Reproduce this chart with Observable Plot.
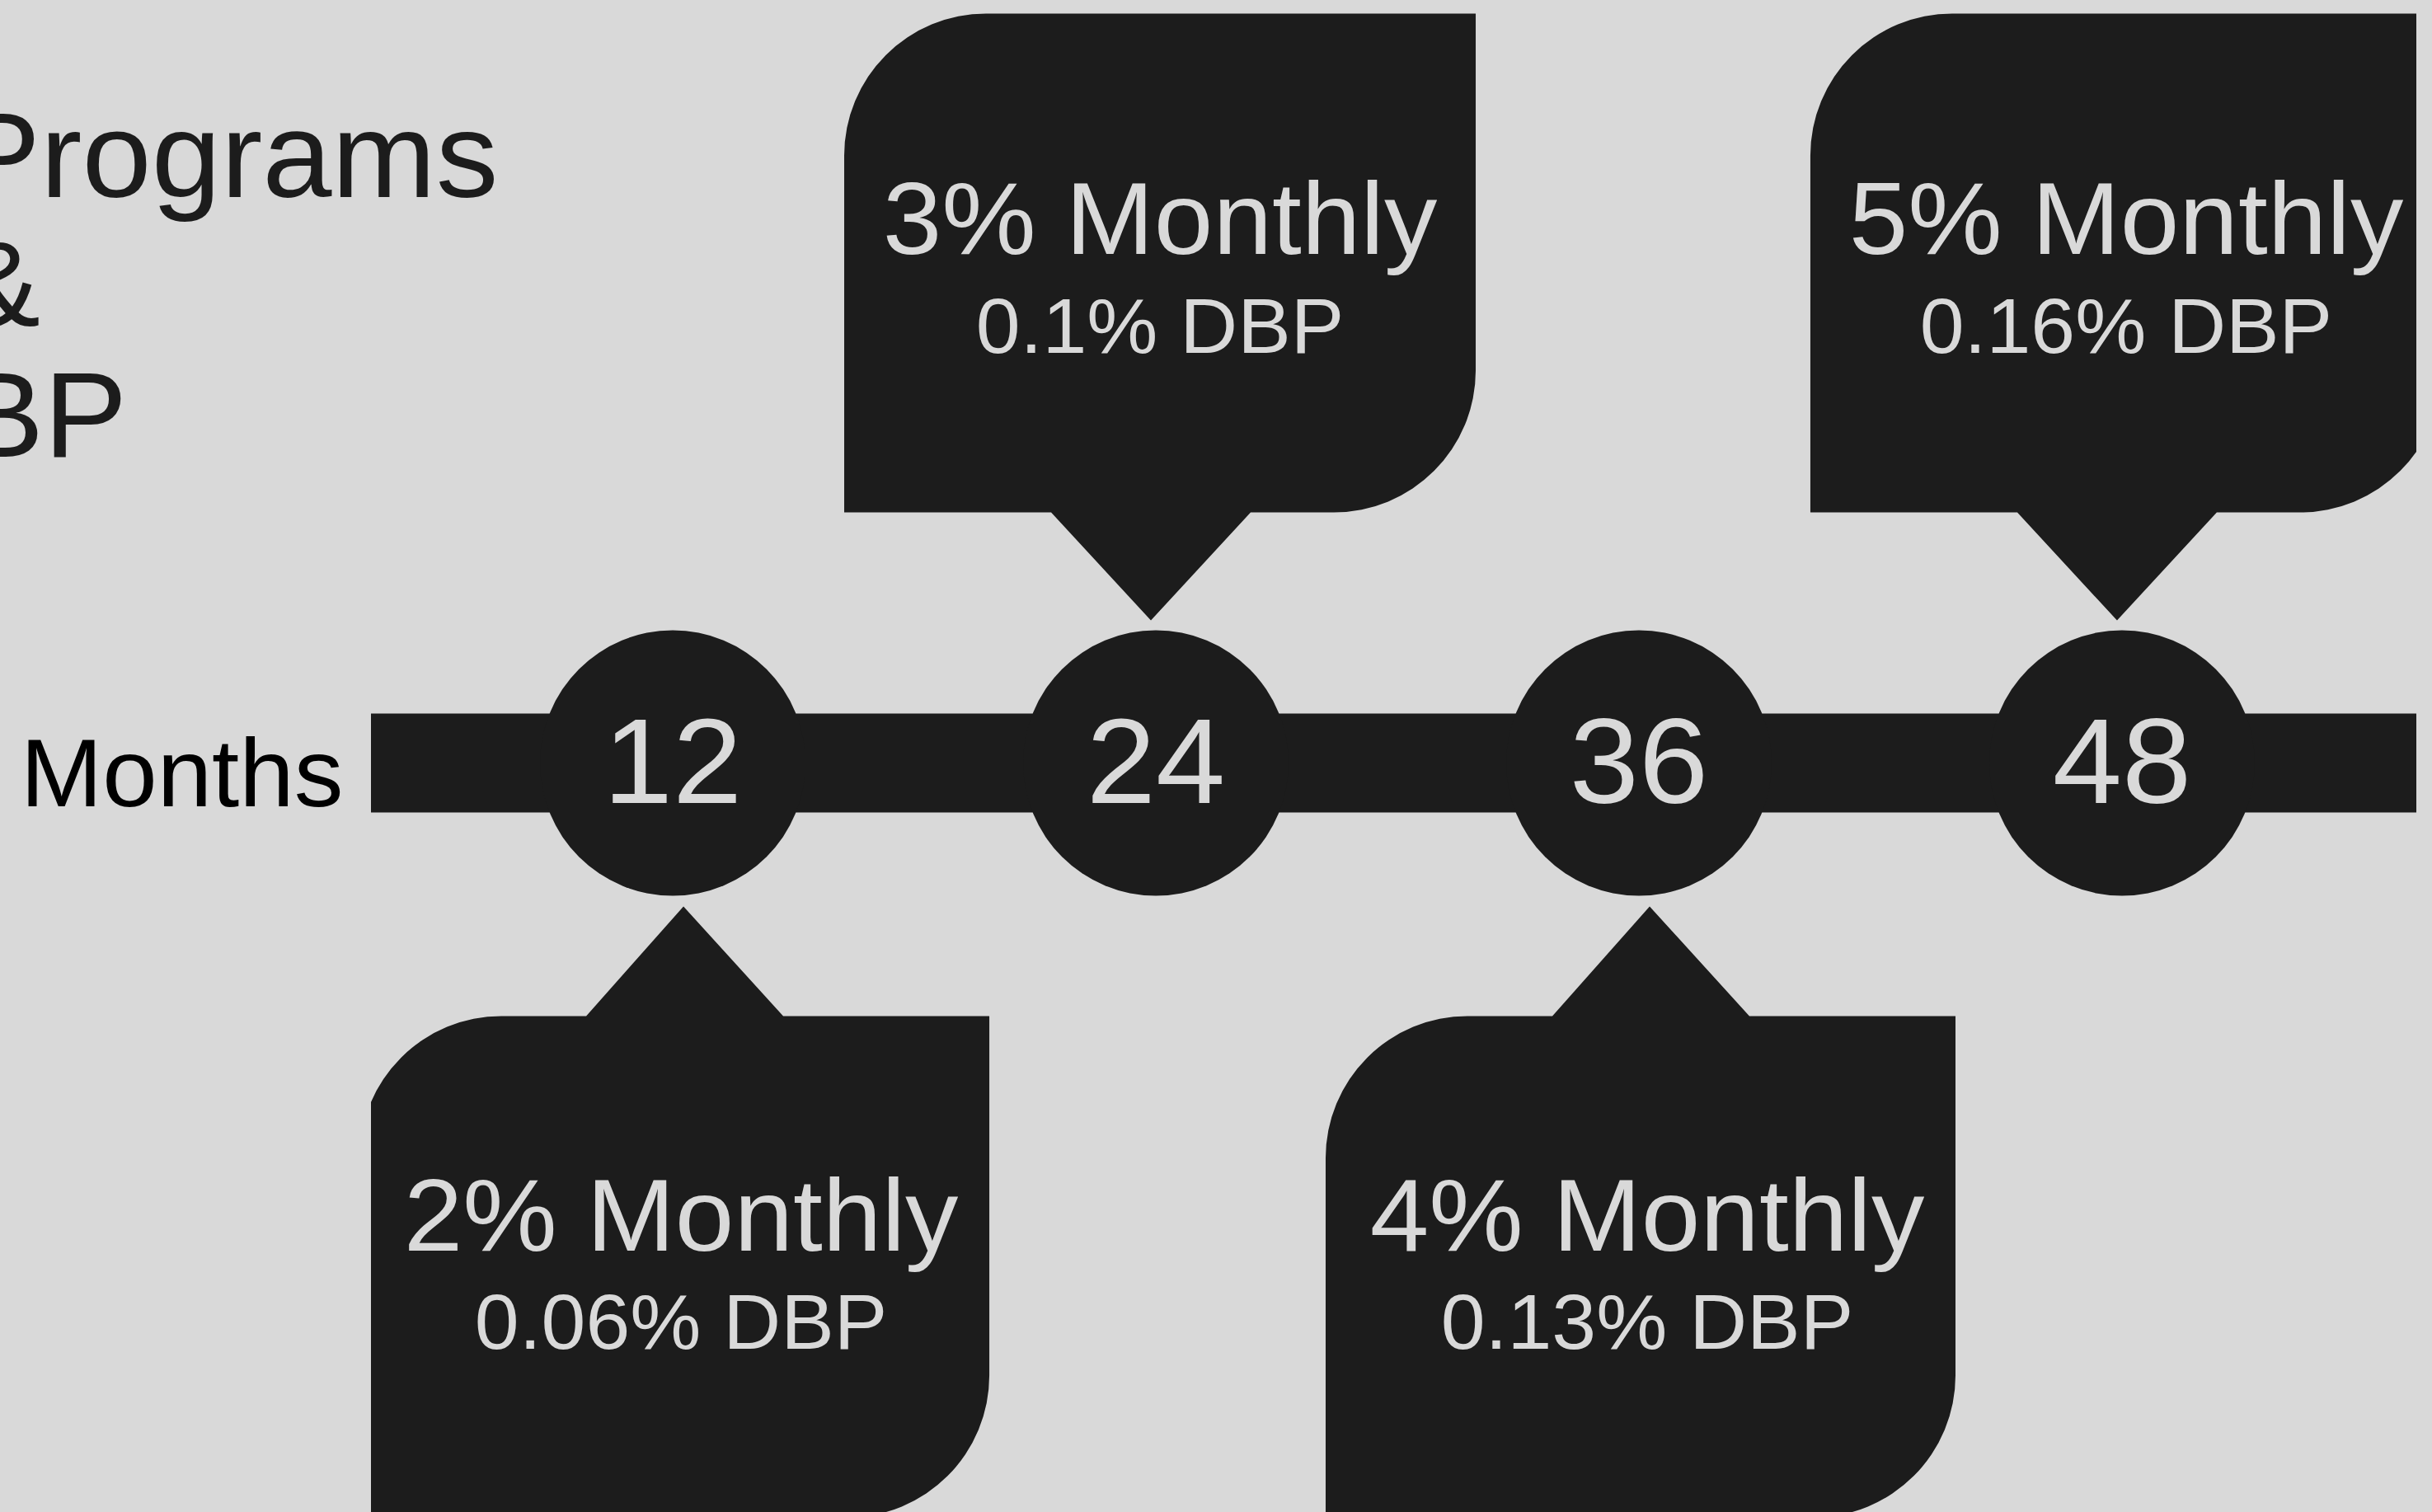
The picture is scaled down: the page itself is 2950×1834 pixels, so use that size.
<!DOCTYPE html>
<html>
<head>
<meta charset="utf-8">
<script src="https://cdn.jsdelivr.net/npm/d3@7"></script>
<script src="https://cdn.jsdelivr.net/npm/@observablehq/plot@0.6"></script>
<style>
  html, body { margin: 0; padding: 0; background: #d9d9d9; overflow: hidden; }
  #chart svg { display: block; }
</style>
</head>
<body>
<div id="chart"></div>
<script>
// ---- data ----
const months = [12, 24, 36, 48];
const rates = ["2% Monthly", "3% Monthly", "4% Monthly", "5% Monthly"];
const dbps = ["0.06% DBP", "0.1% DBP", "0.13% DBP", "0.16% DBP"];
const sides = ["below", "above", "below", "above"];
const titleLines = ["Deposit Programs", "&", "DBP"];
const axisLabel = "Months";

// ---- styles ----
const DARK = "#1c1c1c";
const LIGHT = "#d9d9d9";
const STRETCH = 1.03;

const data = months.map((m, i) => ({month: m, rate: rates[i], dbp: dbps[i], side: sides[i]}));

// callout shapes (speech bubbles), drawn relative to the timeline point
const RAD = 172;
const calloutAbove = {
  draw(ctx) {
    const L = -378, R = 388, T = -909, B = -304;
    ctx.moveTo(L, B);
    ctx.lineTo(L, T + RAD);
    ctx.arcTo(L, T, L + RAD, T, RAD);
    ctx.lineTo(R, T);
    ctx.lineTo(R, B - RAD);
    ctx.arcTo(R, B, R - RAD, B, RAD);
    ctx.lineTo(115, B);
    ctx.lineTo(-6, -173);
    ctx.lineTo(-127, B);
    ctx.closePath();
  }
};
const calloutBelow = {
  draw(ctx) {
    const L = -380, R = 384, T = 307, B = 915;
    ctx.moveTo(L, T + RAD);
    ctx.arcTo(L, T, L + RAD, T, RAD);
    ctx.lineTo(-105, T);
    ctx.lineTo(13, 174);
    ctx.lineTo(134, T);
    ctx.lineTo(R, T);
    ctx.lineTo(R, B - RAD);
    ctx.arcTo(R, B, R - RAD, B, RAD);
    ctx.lineTo(L, B);
    ctx.closePath();
  }
};

const above = d => d.side === "above";
const below = d => d.side === "below";
const zero = () => 0;

const chart = Plot.plot({
  width: 2950,
  height: 1834,
  marginLeft: 450,
  marginRight: 19,
  marginTop: 0,
  marginBottom: 0,
  style: {background: LIGHT, fontFamily: "'Liberation Sans', Arial, sans-serif", overflow: "hidden"},
  x: {type: "linear", domain: [4.514, 55.322], axis: null},
  y: {type: "linear", domain: [-1, 1], range: [1850, 0], axis: null},
  marks: [
    Plot.ruleY([0], {stroke: DARK, strokeWidth: 120}),
    Plot.dot(data, {x: "month", y: zero, r: 161, fill: DARK, stroke: "none"}),
    Plot.text(data, {x: "month", y: zero, text: d => String(d.month), fill: LIGHT, fontSize: 147, lineAnchor: "bottom", dy: 48}),
    Plot.dot(data, {filter: above, x: "month", y: zero, symbol: calloutAbove, fill: DARK, stroke: "none", clip: true}),
    Plot.dot(data, {filter: below, x: "month", y: zero, symbol: calloutBelow, fill: DARK, stroke: "none", clip: true}),
    Plot.text(data, {filter: above, x: "month", y: zero, text: "rate", fill: LIGHT, fontSize: 125, lineAnchor: "bottom", dx: 5, dy: -618}),
    Plot.text(data, {filter: above, x: "month", y: zero, text: "dbp", fill: LIGHT, fontSize: 94, lineAnchor: "bottom", dx: 5, dy: -498}),
    Plot.text(data, {filter: below, x: "month", y: zero, text: "rate", fill: LIGHT, fontSize: 125, lineAnchor: "bottom", dx: 10, dy: 591}),
    Plot.text(data, {filter: below, x: "month", y: zero, text: "dbp", fill: LIGHT, fontSize: 94, lineAnchor: "bottom", dx: 10, dy: 710}),
    Plot.text([titleLines.join("\n")], {frameAnchor: "top-left", text: d => d, textAnchor: "middle", lineAnchor: "bottom", lineHeight: 1.071, fontSize: 147, fill: DARK, dx: -452, dy: 553}),
    Plot.text([axisLabel], {frameAnchor: "left", y: zero, text: d => d, textAnchor: "end", lineAnchor: "bottom", fontSize: 116, fill: "#000", dx: -34, dy: 52})
  ]
});

// the reference's lettering is slightly wider than the font's natural width
chart.querySelectorAll("text").forEach(t => {
  const tr = t.getAttribute("transform") || "";
  t.setAttribute("transform", tr + ` scale(${STRETCH},1)`);
});

document.getElementById("chart").appendChild(chart);
</script>
</body>
</html>
